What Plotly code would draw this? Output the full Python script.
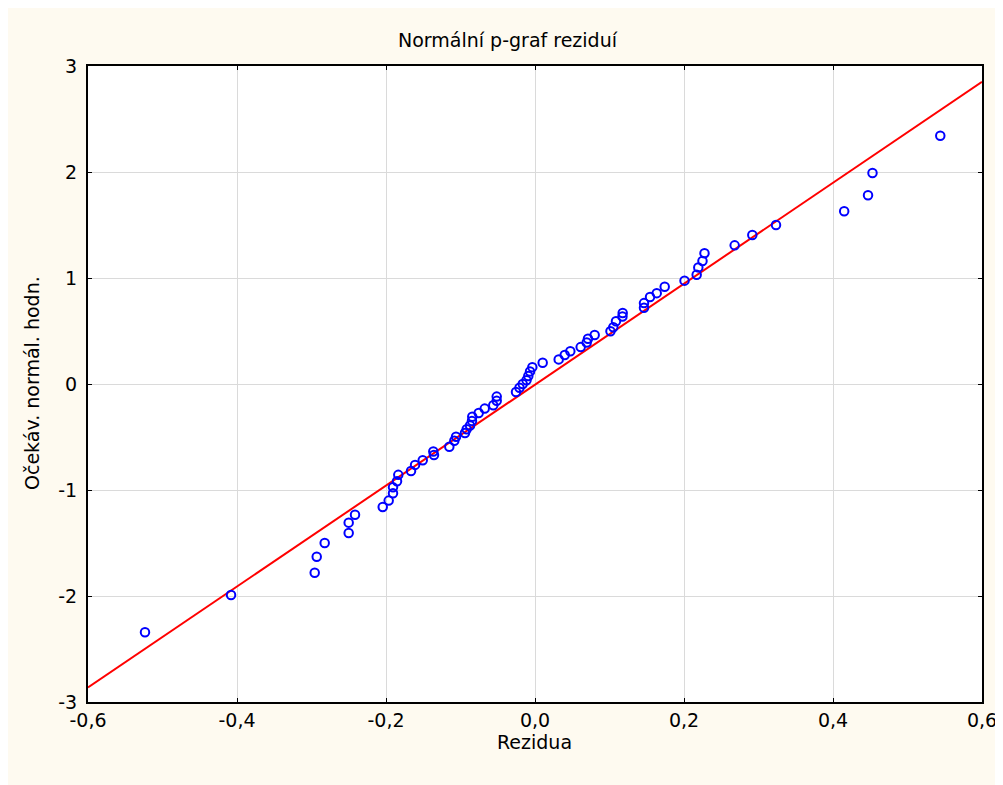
import plotly.graph_objects as go

# Residuals (x) and expected normal values (y)
residuals = [
    0.544, 0.453, 0.447, 0.415, 0.3235, 0.2917, 0.268, 0.2275, 0.2248, 0.2192,
    0.217, 0.2007, 0.1741, 0.1634, 0.1544, 0.1463, 0.1463, 0.1177, 0.1174, 0.1087,
    0.1051, 0.1013, 0.0801, 0.0711, 0.0694, 0.0613, 0.0474, 0.0399, 0.0318, 0.0103,
    -0.0036, -0.0067, -0.009, -0.0114, -0.0165, -0.0208, -0.0255, -0.0514, -0.0514, -0.056,
    -0.0675, -0.0756, -0.0842, -0.0846, -0.0872, -0.0917, -0.094, -0.106, -0.1083, -0.115,
    -0.1365, -0.1356, -0.1507, -0.161, -0.1664, -0.1835, -0.1852, -0.1906, -0.1906, -0.1964,
    -0.2044, -0.2416, -0.2501, -0.2501, -0.2823, -0.293, -0.2957, -0.408, -0.5235,
]
expected = [
    2.342, 1.991, 1.780, 1.630, 1.500, 1.405, 1.308, 1.234, 1.160, 1.100,
    1.030, 0.975, 0.917, 0.857, 0.821, 0.763, 0.720, 0.670, 0.636, 0.592,
    0.536, 0.497, 0.463, 0.427, 0.392, 0.348, 0.309, 0.273, 0.232, 0.201,
    0.159, 0.119, 0.076, 0.036, 0.0, -0.036, -0.076, -0.119, -0.159, -0.201,
    -0.232, -0.273, -0.309, -0.348, -0.392, -0.427, -0.463, -0.497, -0.536, -0.592,
    -0.636, -0.670, -0.720, -0.763, -0.821, -0.857, -0.917, -0.975, -1.030, -1.100,
    -1.160, -1.234, -1.308, -1.405, -1.500, -1.630, -1.780, -1.991, -2.342,
]
# Fitted normal line end points
line_x = [-0.6, 0.6]
line_y = [-2.863, 2.851]

x_tickvals = [-0.6, -0.4, -0.2, 0.0, 0.2, 0.4, 0.6]
x_ticktext = ["-0,6", "-0,4", "-0,2", "0,0", "0,2", "0,4", "0,6"]
y_tickvals = [-3, -2, -1, 0, 1, 2, 3]
y_ticktext = ["-3", "-2", "-1", "0", "1", "2", "3"]

title_text = "Normální p-graf reziduí"
x_title = "Rezidua"
y_title = "Očekáv. normál. hodn."

FONT = "DejaVu Sans, Verdana, sans-serif"
FS = 19
W, H = 1003, 785
ML, MR, MT, MB = 80, 29, 58, 91
PW, PH = W - ML - MR, H - MT - MB

def px_x(p):
    return (p - ML) / PW

def px_y(p):
    return (H - MB - p) / PH

fig = go.Figure()
fig.add_trace(go.Scatter(
    x=line_x, y=line_y, mode="lines",
    line=dict(color="#FF0000", width=2), hoverinfo="skip", showlegend=False,
))
fig.add_trace(go.Scatter(
    x=residuals, y=expected, mode="markers",
    marker=dict(symbol="circle-open", size=8.5, color="#0000FF",
                line=dict(color="#0000FF", width=2)),
    showlegend=False,
))

axis_common = dict(
    showgrid=True, gridcolor="#DADADA", gridwidth=1,
    zeroline=False, showline=True, linecolor="black", linewidth=2,
    mirror="ticks", ticks="inside", ticklen=4, tickcolor="black", tickwidth=1,
    tickfont=dict(family=FONT, size=FS, color="black"),
)

fig.update_layout(
    width=W, height=H,
    margin=dict(l=ML, r=MR, t=MT, b=MB, autoexpand=False),
    paper_bgcolor="#FEFAF0", plot_bgcolor="white",
    xaxis=dict(range=[-0.6, 0.6], tickvals=x_tickvals, ticktext=x_ticktext,
               ticklabelstandoff=0, **axis_common),
    yaxis=dict(range=[-3, 3], tickvals=y_tickvals, ticktext=y_ticktext,
               ticklabelstandoff=5, **axis_common),
    showlegend=False,
    annotations=[
        dict(text=title_text, xref="paper", yref="paper", x=px_x(500), y=px_y(32),
             xanchor="center", yanchor="middle", showarrow=False,
             font=dict(family=FONT, size=FS, color="black")),
        dict(text=x_title, xref="paper", yref="paper", x=px_x(526), y=px_y(734),
             xanchor="center", yanchor="middle", showarrow=False,
             font=dict(family=FONT, size=FS, color="black")),
        dict(text=y_title, xref="paper", yref="paper", x=px_x(24), y=px_y(375),
             xanchor="center", yanchor="middle", showarrow=False, textangle=-90,
             font=dict(family=FONT, size=FS, color="black")),
    ],
)

fig.write_html("out.html")
